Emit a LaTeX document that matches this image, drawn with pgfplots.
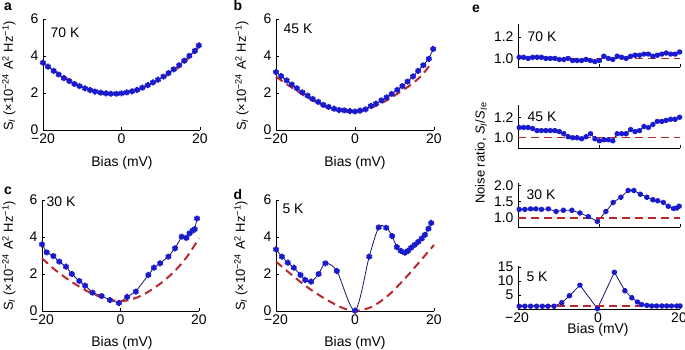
\documentclass[border=0pt]{standalone}
\usepackage{fontspec}
\setmainfont{Liberation Sans}
\usepackage{pgfplots}
\pgfplotsset{compat=1.18}
\definecolor{mblue}{RGB}{25,25,205}
\definecolor{lblue}{RGB}{20,20,110}
\definecolor{mred}{RGB}{185,40,45}
\newcommand{\fs}{\fontsize{14}{14}\selectfont}
\newcommand{\fl}{\fontsize{13}{13}\selectfont}
\pgfplotsset{
  base/.style={scale only axis, axis lines=left,
    axis line style={-, line width=0.7pt, black},
    tick align=inside, major tick length=3bp,
    tick style={line width=0.6pt, black},
    xmin=-20, xmax=20, enlargelimits=false, clip=false,
    xtick={-20,0,20}, xticklabels={−20,0,20},
    ticklabel style={font=\fs},
    yticklabel style={xshift=-1bp},
    /pgf/number format/assume math mode=true},
  bigp/.style={base, width=157bp, height=111bp, ymin=0, ymax=6,
    ytick={0,2,4,6}, yticklabels={0,2,4,6}},
  smallp/.style={base, width=162bp},
  dataB/.style={color=lblue, line width=0.8pt, mark=asterisk, mark size=3pt,
    mark options={color=mblue, line width=2pt, solid}},
  fitR/.style={color=mred, line width=2pt, dash pattern=on 8bp off 5bp},
}
\begin{document}
\begin{tikzpicture}
\path[use as bounding box] (0,0) rectangle (685bp,350bp);
% ---------- a ----------
\begin{axis}[bigp, at={(43bp,220bp)}]
\addplot[dataB] coordinates {(-20,3.64) (-18.7,3.42) (-17.3,3.20) (-16,3.00) (-14.7,2.80) (-13.3,2.64) (-12,2.49) (-10.7,2.37) (-9.3,2.25) (-8,2.16) (-6.7,2.08) (-5.3,2.02) (-4,1.98) (-2.7,1.96) (-1.3,1.96) (0,1.98) (1.3,2.03) (2.7,2.09) (4,2.17) (5.3,2.29) (6.7,2.42) (8,2.57) (9.3,2.72) (10.7,2.89) (12,3.08) (13.3,3.28) (14.7,3.50) (16,3.75) (17.3,4.01) (18.7,4.28) (19.7,4.57)};
\addplot[fitR, smooth, opacity=0.85] coordinates {(-20,3.60) (-15,2.93) (-10,2.32) (-5,2.03) (-2,1.97) (0,1.99) (5,2.25) (10,2.75) (15,3.45) (19.5,4.42)};
\end{axis}
% ---------- b ----------
\begin{axis}[bigp, at={(276bp,220bp)}, width=158bp]
\addplot[dataB] coordinates {(-20,3.13) (-18.7,2.91) (-17.3,2.68) (-16,2.46) (-14.7,2.25) (-13.3,2.03) (-12,1.86) (-10.7,1.68) (-9.3,1.52) (-8,1.36) (-6.7,1.25) (-5.3,1.15) (-4,1.08) (-2.7,1.06) (-1.3,1.02) (0,1.00) (1.3,1.05) (2.7,1.12) (4,1.30) (5.3,1.42) (6.7,1.60) (8,1.76) (9.3,1.95) (10.7,2.17) (12,2.37) (13.3,2.62) (14.7,2.90) (16,3.20) (17.3,3.50) (18.7,3.85) (19.8,4.38)};
\addplot[fitR, smooth] coordinates {(-20,2.88) (-15,2.15) (-10.9,1.62) (-7,1.22) (-4,1.03) (0,0.99) (3,1.10) (7.6,1.55) (11,2.00) (14.5,2.50) (17,2.98) (19.1,3.55)};
\end{axis}
% ---------- c ----------
\begin{axis}[bigp, at={(42bp,39bp)}]
\addplot[dataB] coordinates {(-20,3.60) (-18.8,3.17) (-17.1,2.97) (-15.6,2.67) (-13.9,2.40) (-12.4,2.00) (-10.5,1.62) (-9.0,1.37) (-7.1,0.99) (-4.8,0.81) (-2.7,0.59) (-0.4,0.43) (1.7,0.76) (3.9,1.05) (7.1,1.95) (8.5,2.34) (10.1,2.58) (12.2,2.94) (13.9,3.39) (15.6,4.02) (16.8,3.95) (17.6,4.20) (18.4,4.35) (18.9,4.42) (19.5,5.00)};
\addplot[fitR, smooth] coordinates {(-20,2.85) (-17,2.28) (-14,1.80) (-11,1.38) (-8,1.02) (-5,0.75) (-2,0.58) (0,0.54) (2,0.58) (5,0.80) (8,1.16) (11,1.62) (14,2.20) (17,2.95) (20,3.93)};
\end{axis}
% ---------- d ----------
\begin{axis}[bigp, at={(276bp,39bp)}, width=158bp]
\addplot[dataB, smooth] coordinates {(-20,3.33) (-18.5,2.94) (-17,2.61) (-15.5,2.34) (-13.8,1.95) (-12.6,1.68) (-11.1,1.59) (-9.2,2.00) (-7.5,2.58) (-4.6,2.16) (0,0.02) (3.6,2.94) (6.0,4.52) (7.9,4.50) (9.4,4.05) (10.6,3.45) (11.6,3.25) (12.6,3.15) (13.4,3.25) (14.2,3.42) (15.1,3.58) (16.0,3.74) (16.9,3.92) (17.7,4.12) (18.6,4.45) (19.3,4.76)};
\addplot[fitR, smooth] coordinates {(-20,2.67) (-16,1.95) (-11.7,1.23) (-7.5,0.65) (-3.3,0.18) (0,0.0) (4.3,0.23) (8.5,0.86) (12.7,1.77) (15.3,2.40) (20,3.57)};
\end{axis}
% ---------- e: 70 K ----------
\begin{axis}[smallp, at={(518bp,283bp)}, height=43bp, ymin=0.92, ymax=1.32,
  ytick={1.0,1.2}, yticklabels={1.0,1.2}, xticklabels={}]
\addplot[dataB, mark size=2.6pt] coordinates {(-19.7,1.01) (-18.6,1.01) (-17.5,1.00) (-16.4,1.01) (-15.3,1.01) (-14.2,1.01) (-13.1,1.00) (-12.0,1.00) (-10.9,1.00) (-9.8,0.99) (-8.7,0.99) (-7.6,1.00) (-6.5,0.98) (-5.4,0.98) (-4.3,0.98) (-3.2,0.99) (-2.1,0.98) (-1.0,0.97) (0.1,0.98) (1.2,1.02) (2.3,1.00) (3.4,0.99) (4.5,1.02) (5.6,1.01) (6.7,1.00) (7.8,1.02) (8.9,1.03) (10.0,1.03) (11.1,1.04) (12.2,1.04) (13.3,1.02) (14.4,1.03) (15.5,1.04) (16.6,1.05) (17.7,1.04) (18.8,1.04) (19.9,1.06)};
\addplot[fitR, line width=1.4pt] coordinates {(-20,1) (20,1)};
\end{axis}
% ---------- e: 45 K ----------
\begin{axis}[smallp, at={(518bp,202bp)}, height=43bp, ymin=0.90, ymax=1.32,
  ytick={1.0,1.2}, yticklabels={1.0,1.2}, xticklabels={}]
\addplot[dataB, mark size=2.6pt] coordinates {(-19.7,1.10) (-18.6,1.10) (-17.5,1.10) (-16.4,1.09) (-15.3,1.07) (-14.2,1.07) (-13.1,1.07) (-12.0,1.07) (-10.9,1.07) (-9.8,1.06) (-8.7,1.04) (-7.6,1.01) (-6.5,1.00) (-5.4,1.00) (-4.3,0.99) (-3.2,1.01) (-2.1,1.04) (-1.0,0.99) (0.1,0.97) (1.2,0.98) (2.3,0.98) (3.4,0.97) (4.5,1.04) (5.6,1.04) (6.7,1.04) (7.8,1.08) (8.9,1.06) (10.0,1.07) (11.1,1.11) (12.2,1.10) (13.3,1.13) (14.4,1.16) (15.5,1.16) (16.6,1.17) (17.7,1.18) (18.8,1.18) (19.9,1.20)};
\addplot[fitR, line width=1.4pt] coordinates {(-20,1) (20,1)};
\end{axis}
% ---------- e: 30 K ----------
\begin{axis}[smallp, at={(518bp,123bp)}, height=44bp, ymin=0.72, ymax=2.08,
  ytick={1.0,1.5,2.0}, yticklabels={1.0,1.5,2.0}, xticklabels={}]
\addplot[dataB, mark size=2.6pt] coordinates {(-19.7,1.265) (-18.3,1.265) (-16.9,1.28) (-15.6,1.28) (-14.2,1.265) (-12.5,1.28) (-10.6,1.20) (-8.8,1.235) (-6.7,1.235) (-4.7,1.15) (-2.6,1.04) (-0.4,0.89) (1.7,1.20) (3.5,1.48) (5.4,1.64) (7.2,1.85) (8.6,1.85) (10.2,1.735) (11.8,1.64) (13.3,1.56) (14.5,1.53) (15.9,1.48) (17.1,1.36) (18.4,1.29) (19.2,1.31) (19.8,1.36)};
\addplot[fitR, line width=1.4pt] coordinates {(-20,1) (20,1)};
\end{axis}
% ---------- e: 5 K ----------
\begin{axis}[smallp, at={(518bp,41bp)}, height=43.5bp, ymin=0, ymax=15.5,
  ytick={5,10,15}, yticklabels={5,10,15}, xticklabel style={font=\fs, xshift=-1bp}]
\addplot[dataB, mark size=2.6pt] coordinates {(-19.7,1.0) (-18.3,1.0) (-16.9,1.0) (-15.4,1.0) (-14.0,1.0) (-12.6,1.0) (-11.1,1.0) (-9.2,2.2) (-7.3,4.7) (-4.7,8.5) (-0.4,0.1) (3.8,13.1) (6.4,6.5) (8.1,4.0) (9.5,2.5) (10.5,1.6) (11.8,1.3) (13.0,1.1) (14.2,1.1) (15.5,1.1) (16.7,1.1) (17.9,1.1) (19.2,1.1) (20,1.1)};
\addplot[fitR, line width=2pt] coordinates {(-20,1) (20,1)};
\end{axis}
% ---------- labels ----------
\begin{scope}[every node/.style={font=\fs}]
\node[font=\fontsize{14}{14}\selectfont\bfseries] at (8bp,343bp) {a};
\node[font=\fontsize{14}{14}\selectfont\bfseries] at (238bp,344bp) {b};
\node[font=\fontsize{14}{14}\selectfont\bfseries] at (8bp,159bp) {c};
\node[font=\fontsize{14}{14}\selectfont\bfseries] at (238bp,155bp) {d};
\node[font=\fontsize{14}{14}\selectfont\bfseries] at (476bp,341bp) {e};
\node at (65bp,317bp) {70 K};
\node at (298bp,321bp) {45 K};
\node at (61bp,148bp) {30 K};
\node at (293bp,141bp) {5 K};
\node at (542bp,313bp) {70 K};
\node at (542bp,233bp) {45 K};
\node at (541bp,155bp) {30 K};
\node at (537bp,73bp) {5 K};
\node at (122bp,187bp) {Bias (mV)};
\node at (355bp,187bp) {Bias (mV)};
\node at (122bp,7bp) {Bias (mV)};
\node at (355bp,7bp) {Bias (mV)};
\node at (598bp,20bp) {Bias (mV)};
\node[rotate=90, font=\fl, inner sep=0pt] at (9bp,274bp) {S\textsubscript{\textit{I}} (×10\textsuperscript{−24} A\textsuperscript{2} Hz\textsuperscript{−1})};
\node[rotate=90, font=\fl, inner sep=0pt] at (242bp,274bp) {S\textsubscript{\textit{I}} (×10\textsuperscript{−24} A\textsuperscript{2} Hz\textsuperscript{−1})};
\node[rotate=90, font=\fl, inner sep=0pt] at (9bp,94bp) {S\textsubscript{\textit{I}} (×10\textsuperscript{−24} A\textsuperscript{2} Hz\textsuperscript{−1})};
\node[rotate=90, font=\fl, inner sep=0pt] at (241bp,94bp) {S\textsubscript{\textit{I}} (×10\textsuperscript{−24} A\textsuperscript{2} Hz\textsuperscript{−1})};
\node[rotate=90, font=\fl] at (481bp,197bp) {Noise ratio, \textit{S\textsubscript{I}}/\textit{S\textsubscript{I}}\textsubscript{e}};
\end{scope}
\end{tikzpicture}
\end{document}
